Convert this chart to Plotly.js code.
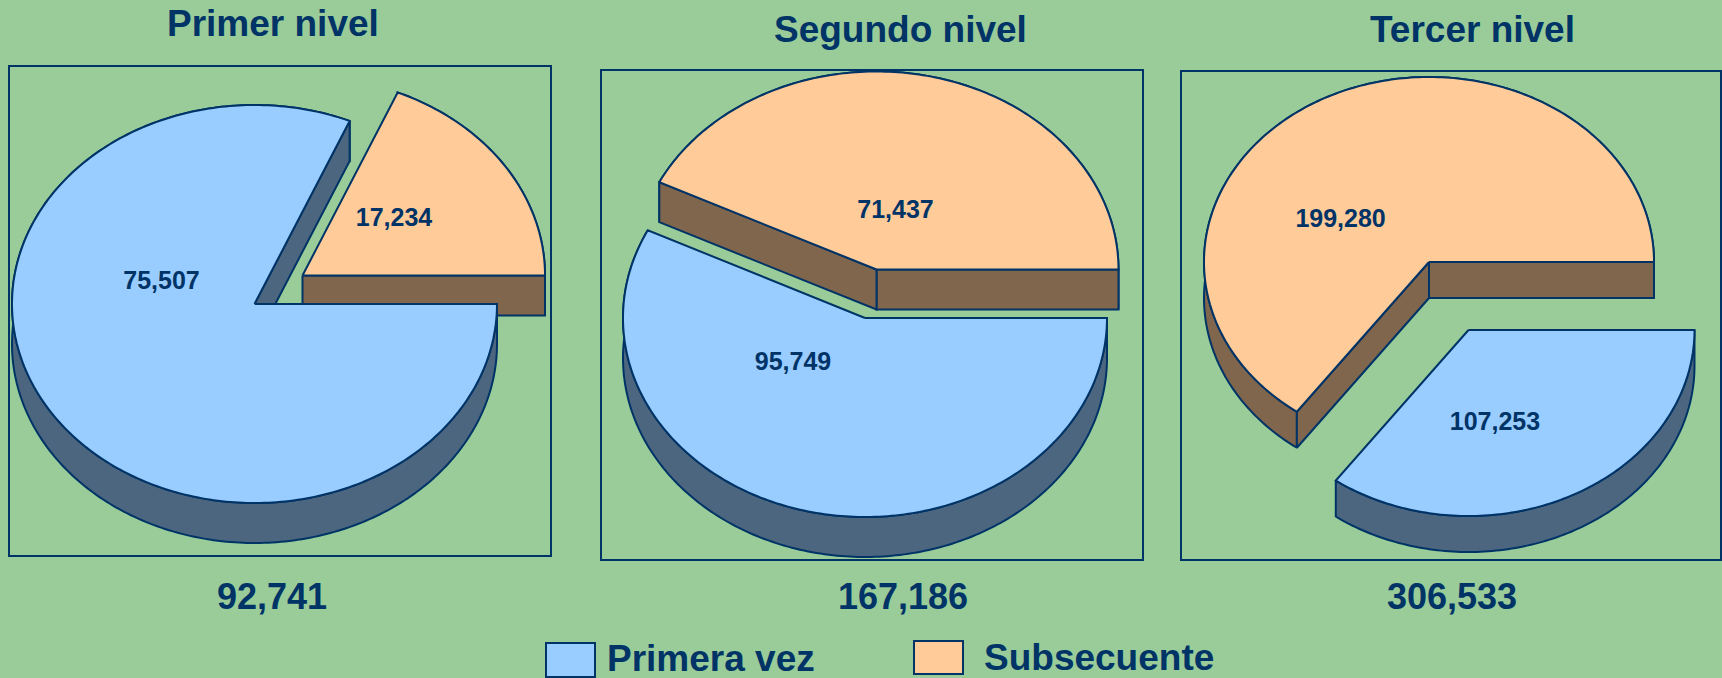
<!DOCTYPE html>
<html>
<head>
<meta charset="utf-8">
<script src="https://cdn.plot.ly/plotly-3.0.1.min.js"></script>
<style>html,body{margin:0;padding:0;background:#99CC99;overflow:hidden}#chart{width:1722px;height:678px}</style>
</head>
<body>
<div id="chart"></div>
<script>
// ---- data ----
const niveles = ["Primer nivel", "Segundo nivel", "Tercer nivel"];
const primeraVez = [75507, 95749, 107253];
const subsecuente = [17234, 71437, 199280];
const serieNames = ["Primera vez", "Subsecuente"];

// ---- presentation ----
const W = 1722, H = 678;
const BG = "#99CC99", INK = "#003366", LINE = 2;
const BLUE = {top: "#99CCFF", wall: "#4D6680"};
const ORANGE = {top: "#FFCC99", wall: "#80664D"};
const FONT = "'Liberation Sans', Arial, sans-serif";
const panels = [
  {box: [9.5, 549.5, 67, 555],
   blue: {cx: 254.5, cy: 304, rx: 242.5, ry: 199, d: 40}, orange: {cx: 302.5, cy: 275.5, rx: 242.5, ry: 199, d: 40},
   blueLabel: [161.5, 283], orangeLabel: [394, 219.5], titlePos: [272.7, 23.5], totalPos: [271.5, 596]},
  {box: [601.5, 1141.5, 71, 559],
   blue: {cx: 865, cy: 318, rx: 242, ry: 199, d: 40}, orange: {cx: 876.5, cy: 269.5, rx: 242, ry: 198, d: 40},
   blueLabel: [793, 364], orangeLabel: [895.5, 212], titlePos: [900, 30], totalPos: [902.5, 596]},
  {box: [1182, 1720, 72, 559],
   blue: {cx: 1468.5, cy: 330, rx: 226, ry: 186, d: 36}, orange: {cx: 1429, cy: 262, rx: 225, ry: 185, d: 36},
   blueLabel: [1495, 424], orangeLabel: [1340.6, 221], titlePos: [1472.5, 30], totalPos: [1451.6, 596]}
];

// Point on a slice's elliptical rim (angle counter-clockwise from 3 o'clock)
function rim(g, deg, drop) {
  const a = deg * Math.PI / 180;
  return [g.cx + g.rx * Math.cos(a), g.cy - g.ry * Math.sin(a) + (drop || 0)];
}
function arcAngles(from, to) {
  const out = [], n = Math.max(2, Math.ceil(Math.abs(to - from)));
  for (let i = 0; i <= n; i++) out.push(from + (to - from) * i / n);
  return out;
}
function poly(pts, fill, xa, ya, name) {
  return {
    type: "scatter", mode: "lines", name: name, showlegend: false, hoverinfo: "skip",
    x: pts.map(p => p[0]), y: pts.map(p => p[1]), xaxis: xa, yaxis: ya,
    fill: "toself", fillcolor: fill,
    line: {color: INK, width: LINE, simplify: false}
  };
}
// A slice = curved wall, the cut walls that face the viewer, and the top face
function slice(g, from, to, color, xa, ya, name) {
  const angles = arcAngles(from, to);
  const centre = [g.cx, g.cy], centreLow = [g.cx, g.cy + g.d];
  const topArc = angles.map(a => rim(g, a));
  const lowArc = angles.map(a => rim(g, a, g.d)).reverse();
  const dir = Math.sign(to - from);
  const out = [poly(topArc.concat(lowArc, [topArc[0]]), color.wall, xa, ya, name + " (borde)")];
  [[from, dir], [to, -dir]].forEach(([edge, inward]) => {
    if (inward * Math.cos(edge * Math.PI / 180) > 0) {
      out.push(poly([centre, rim(g, edge), rim(g, edge, g.d), centreLow, centre],
                    color.wall, xa, ya, name + " (corte)"));
    }
  });
  out.push(poly([centre].concat(topArc, [centre]), color.top, xa, ya, name));
  return out;
}
const fmt = v => v.toLocaleString("en-US");

const traces = [], layout = {
  width: W, height: H, margin: {l: 0, r: 0, t: 0, b: 0},
  paper_bgcolor: BG, plot_bgcolor: BG, showlegend: false,
  font: {family: FONT, color: INK}, annotations: [], shapes: []
};

panels.forEach((p, i) => {
  const n = i === 0 ? "" : String(i + 1);
  const xa = "x" + n, ya = "y" + n;
  const axis = {showgrid: false, zeroline: false, showticklabels: false, ticks: "",
                showline: true, mirror: true, linecolor: INK, linewidth: LINE, fixedrange: true};
  layout["xaxis" + n] = Object.assign({}, axis, {
    domain: [p.box[0] / W, p.box[1] / W], range: [p.box[0], p.box[1]], anchor: ya});
  layout["yaxis" + n] = Object.assign({}, axis, {
    domain: [1 - p.box[3] / H, 1 - p.box[2] / H], range: [p.box[3], p.box[2]], anchor: xa});

  const total = primeraVez[i] + subsecuente[i];
  const sweep = 360 * subsecuente[i] / total;
  // Subsecuente runs counter-clockwise from 3 o'clock, Primera vez clockwise
  traces.push(...slice(p.orange, 0, sweep, ORANGE, xa, ya, serieNames[1]));
  traces.push(...slice(p.blue, 0, sweep - 360, BLUE, xa, ya, serieNames[0]));
  traces.push({
    type: "scatter", mode: "text", showlegend: false, hoverinfo: "skip", xaxis: xa, yaxis: ya,
    x: [p.blueLabel[0], p.orangeLabel[0]], y: [p.blueLabel[1], p.orangeLabel[1]],
    text: [fmt(primeraVez[i]), fmt(subsecuente[i])], textposition: "middle center",
    textfont: {family: FONT, size: 25, color: INK, weight: 700}
  });
  const note = (text, pos, size) => ({
    text: "<b>" + text + "</b>", xref: "paper", yref: "paper",
    x: pos[0] / W, y: 1 - pos[1] / H, xanchor: "center", yanchor: "middle",
    showarrow: false, font: {family: FONT, size: size, color: INK}
  });
  layout.annotations.push(note(niveles[i], p.titlePos, 37));
  layout.annotations.push(note(fmt(total), p.totalPos, 36));
});

// Legend
[{sw: [546, 595, 643, 677], txt: [710.5, 658.5], c: BLUE.top, name: serieNames[0]},
 {sw: [914, 963, 641, 674], txt: [1099, 657.5], c: ORANGE.top, name: serieNames[1]}].forEach(l => {
  layout.shapes.push({type: "rect", xref: "paper", yref: "paper",
    x0: l.sw[0] / W, x1: l.sw[1] / W, y0: 1 - l.sw[3] / H, y1: 1 - l.sw[2] / H,
    fillcolor: l.c, line: {color: INK, width: LINE}});
  layout.annotations.push({text: "<b>" + l.name + "</b>", xref: "paper", yref: "paper",
    x: l.txt[0] / W, y: 1 - l.txt[1] / H, xanchor: "center", yanchor: "middle", showarrow: false,
    font: {family: FONT, size: 37, color: INK}});
});

Plotly.newPlot("chart", traces, layout, {displayModeBar: false, staticPlot: true});
</script>
</body>
</html>
